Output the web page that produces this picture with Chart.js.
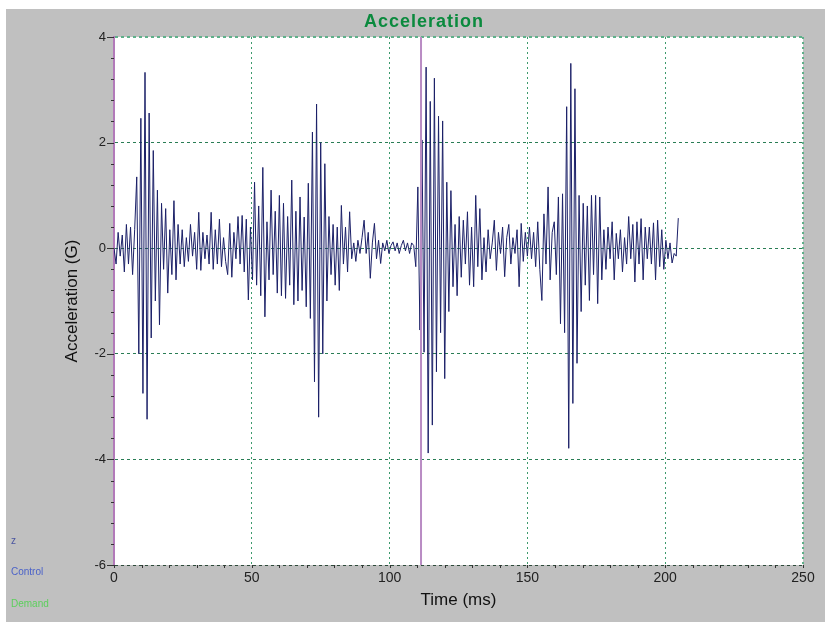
<!DOCTYPE html>
<html>
<head>
<meta charset="utf-8">
<script src="https://cdn.jsdelivr.net/npm/chart.js@4.4.1/dist/chart.umd.min.js"></script>
<style>
  body { margin: 0; background: #fff; }
  #wrap { width: 825px; height: 622px; }
</style>
</head>
<body>
<div id="wrap"><canvas id="accelChart" width="825" height="622"></canvas></div>
<script>
// samples, one every 0.75 ms
const sampleMs = 0.75;
const accel = [
  0.0, -0.3, 0.3, -0.15, 0.25, -0.45, 0.45, -0.3, 0.4, -0.5, 0.35,
  1.35, -2.0, 2.46, -2.75, 3.33, -3.24, 2.56, -1.7, 1.85, -1.0,
  1.1, -1.45, 0.85, -0.4, 0.75, -0.85, 0.35, -0.5, 0.9, -0.6,
  0.45, -0.3, 0.35, -0.35, 0.2, -0.25, 0.45, -0.15, 0.3, -0.4,
  0.68, -0.42, 0.3, -0.2, 0.25, -0.3,
  0.68, -0.4, 0.35, -0.3, 0.55, -0.35, 0.2, -0.25,
  -0.5, 0.47, -0.55, 0.3, -0.2, 0.6, -0.3, 0.62, -0.45, 0.55,
  -0.98, 0.4, -0.6, 1.25, -0.7, 0.8, -0.9, 1.53, -1.3, 0.5,
  -0.6, 1.1, -0.5, 0.7, -0.85, 1.0, -0.9, 0.85, -0.95, 0.6,
  -0.7, 1.29, -1.07, 0.7, -1.0, 0.97, -0.8, 0.59, -1.11, 1.23,
  -1.33, 2.2, -2.53, 2.73, -3.2, 2.0, -2.0, 1.6, -1.0,
  0.6, -0.5, 0.45, -0.7, 0.4, -0.8, 0.81, -0.3, 0.4, -0.45,
  0.69, -0.2, 0.1, -0.25, 0.15, -0.1, 0.2, 0.53, -0.1, 0.3,
  -0.57, 0.1, 0.47, -0.2, 0.15, -0.29, 0.1, -0.05, 0.15, -0.1,
  0.05, 0.12, -0.05, 0.1, -0.1, 0.05, 0.15, -0.05, 0.1, -0.1,
  0.1, 0.05, -0.35,
  1.16, -1.55, 2.05, -1.97, 3.43, -3.88, 2.78, -3.35, 3.22, -2.34,
  2.5, -1.6, 2.41, -2.47, 1.25, -1.2, 1.09, -0.73,
  0.45, -0.9, 0.6, -0.55, 0.53, -0.3, 0.69, -0.7, 0.4, -0.73,
  1.0, -0.35, 0.75, -0.6, 0.2, -0.45, 0.35, -0.2, 0.1, 0.53,
  -0.42, 0.3, -0.1, 0.4, -0.54, 0.2, 0.45, -0.3, 0.2, -0.1,
  0.35, -0.73, 0.47, -0.25, 0.3, -0.15, 0.4, -0.2, 0.3, -0.35,
  0.5, -0.4,
  -0.99, 0.65, -0.3, 1.16, -0.6, 0.3, 0.5, -0.5, 0.97, -1.43,
  1.03, -1.6, 2.68, -3.79, 3.5, -2.94, 3.02, -2.18, 1.0, -1.2,
  0.85, -0.7,
  0.8, -0.99, 1.0, -0.5, 1.0, -1.05, 0.97, -0.6, 0.35, -0.4,
  0.4, -0.2, 0.5, -0.6, 0.28, -0.2, 0.35, -0.45, 0.2, -0.3,
  0.6, -0.2, 0.45, -0.64, 0.5, -0.3, 0.56, -0.6, 0.4, -0.2,
  0.4, -0.3, 0.48, -0.6, 0.53, -0.35, 0.35, -0.4, 0.15, -0.2,
  0.1, -0.28, -0.1, -0.15, 0.57
];
const markerTime = 111.4;
const xTicks = [0, 50, 100, 150, 200, 250];
const yTicks = [-6, -4, -2, 0, 2, 4];
const sideLabels = ["z", "Control", "Demand"];
const sideColors = ["#4a55a0", "#4b62c8", "#5ccf5c"];

const frame = {
  id: "frame",
  beforeDraw(chart) {
    const { ctx, chartArea: a } = chart;
    ctx.save();
    ctx.fillStyle = "#c0c0c0";
    ctx.fillRect(6, 9, chart.width - 6, chart.height - 9);
    ctx.fillStyle = "#fff";
    ctx.fillRect(a.left, a.top, a.right - a.left, a.bottom - a.top);
    ctx.restore();
  },
  afterDraw(chart) {
    const { ctx } = chart;
    const x = chart.scales.x, y = chart.scales.y;
    ctx.save();
    // minor ticks
    ctx.strokeStyle = "#333";
    ctx.lineWidth = 1;
    ctx.beginPath();
    for (let t = 0; t <= 250; t += 10) {
      const px = Math.round(x.getPixelForValue(t)) + 0.5;
      ctx.moveTo(px, y.bottom);
      ctx.lineTo(px, y.bottom + 3);
    }
    for (let k = 0; k <= 25; k++) {
      const py = Math.round(y.getPixelForValue(-6 + k * 0.4)) + 0.5;
      const len = k % 5 === 0 ? 7 : 3;
      ctx.moveTo(x.left - len, py);
      ctx.lineTo(x.left, py);
    }
    ctx.stroke();

    ctx.fillStyle = "#0b8a3e";
    ctx.font = "bold 18px 'Liberation Sans'";
    ctx.letterSpacing = "1px";
    ctx.textAlign = "center";
    ctx.textBaseline = "middle";
    ctx.fillText("Acceleration", 424, 22);

    ctx.letterSpacing = "0px";
    ctx.font = "10px 'Liberation Sans'";
    ctx.textAlign = "left";
    sideLabels.forEach((s, i) => {
      ctx.fillStyle = sideColors[i];
      ctx.fillText(s, 11, 541 + i * 31.5);
    });
    ctx.restore();
  }
};

const ctx = document.getElementById("accelChart").getContext("2d");

new Chart(ctx, {
  type: "line",
  data: {
    datasets: [
      {
        data: [{ x: markerTime, y: -6 }, { x: markerTime, y: 4 }],
        borderColor: "#b98cc4",
        borderWidth: 2,
        pointRadius: 0,
        order: 0
      },
      {
        data: accel.map((v, i) => ({ x: i * sampleMs, y: v })),
        borderColor: "#1b2068",
        borderWidth: 1,
        pointRadius: 0,
        tension: 0,
        order: 1
      }
    ]
  },
  options: {
    responsive: false,
    animation: false,
    layout: { padding: { top: 37, right: 22, left: 0, bottom: 0 } },
    plugins: {
      legend: { display: false },
      tooltip: { enabled: false }
    },
    scales: {
      x: {
        type: "linear",
        min: 0,
        max: 250,
        afterBuildTicks: s => { s.ticks = xTicks.map(v => ({ value: v })); },
        afterFit: s => { s.height = 57; },
        ticks: {
          color: "#222",
          font: { family: "Liberation Sans", size: 14 },
          padding: 5,
          maxRotation: 0,
          autoSkip: false
        },
        grid: {
          color: c => {
            if (!c.tick) return "#3c9a6c";
            if (c.tick.value === 0) return "rgba(0,0,0,0)";
            if (c.tick.value === 250) return "#5fb08a";
            return "#3c9a6c";
          },
          lineWidth: c => (c.tick && c.tick.value === 250 ? 2 : 1),
          drawTicks: false
        },
        border: { display: false, dash: [2, 3] },
        title: {
          display: true,
          text: "Time (ms)",
          color: "#111",
          font: { family: "Liberation Sans", size: 17 },
          padding: { top: 0, bottom: 11 }
        }
      },
      y: {
        min: -6,
        max: 4,
        afterBuildTicks: s => { s.ticks = yTicks.map(v => ({ value: v })); },
        afterFit: s => { s.width = 114; },
        ticks: {
          color: "#222",
          font: { family: "Liberation Sans", size: 13 },
          padding: 8
        },
        grid: {
          color: c => {
            if (!c.tick) return "#2a7d55";
            if (c.tick.value === 4) return "#5fb08a";
            if (c.tick.value === -6) return "#2d4a3a";
            return "#2a7d55";
          },
          lineWidth: c => (c.tick && c.tick.value === 4 ? 2 : 1),
          drawTicks: false
        },
        border: { color: "#b27ab9", width: 2, dash: [3, 3] },
        title: {
          display: true,
          text: "Acceleration (G)",
          color: "#111",
          font: { family: "Liberation Sans", size: 17 },
          padding: { top: 62, bottom: 0 }
        }
      }
    }
  },
  plugins: [frame]
});
</script>
</body>
</html>
